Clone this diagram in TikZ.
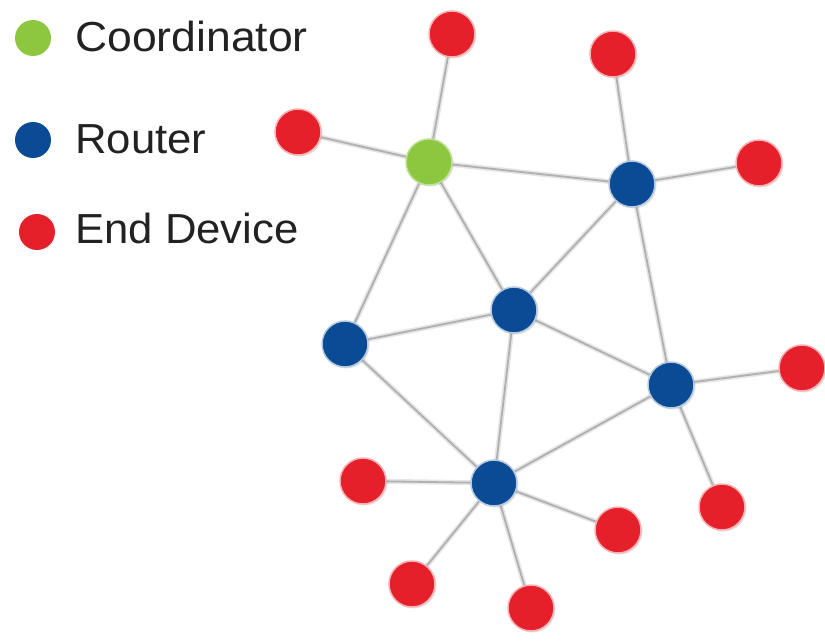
\documentclass[tikz,border=0pt]{standalone}
\usepackage{fontspec}
\setmainfont{Liberation Sans}
\usetikzlibrary{shadows,backgrounds}
\definecolor{cgreen}{HTML}{8DC63F}
\definecolor{cblue}{HTML}{0B4A94}
\definecolor{cred}{HTML}{E5202A}
\definecolor{ctext}{HTML}{222222}
\tikzset{
  dev/.style={circle, inner sep=0pt, minimum size=46pt,
    drop shadow={shadow xshift=1.5pt, shadow yshift=-1.5pt, opacity=0.22}},
  coord/.style={dev, fill=cgreen, draw=cgreen!55, line width=1.5pt},
  router/.style={dev, fill=cblue, draw=cblue!30, line width=1.5pt},
  enddev/.style={dev, fill=cred, draw=cred!35, line width=1.5pt},
  legdot/.style={circle, inner sep=0pt, minimum size=36pt},
  legtext/.style={anchor=base west, inner sep=0pt, text=ctext, font=\fontsize{42}{50}\selectfont},
  link/.style={draw=gray!62, line width=1.8pt, preaction={draw=gray!20, line width=5pt}}
}
\begin{document}
\begin{tikzpicture}[x=1pt,y=-1pt]
\useasboundingbox (0,0) rectangle (825,642);
% legend
\node[legdot, fill=cgreen] (lc) at (33,38) {};
\node[legdot, fill=cblue]  (lr) at (33,140) {};
\node[legdot, fill=cred]   (le) at (37,232) {};
\node[legtext] (tc) at (75,52)  {\scalebox{1.06}[1]{Coordinator}};
\node[legtext] (tr) at (75,153) {\scalebox{1.04}[1]{Router}};
\node[legtext] (te) at (75,243) {\scalebox{1.04}[1]{End Device}};
% network
\node[coord]  (C)  at (429,162) {};
\node[router] (R1) at (632,184) {};
\node[router] (R2) at (514,310) {};
\node[router] (R3) at (345,344) {};
\node[router] (R4) at (671,385) {};
\node[router] (R5) at (494,483) {};
\node[enddev] (E1)  at (452,34) {};
\node[enddev] (E2)  at (613,54) {};
\node[enddev] (E3)  at (298,132) {};
\node[enddev] (E4)  at (759,163) {};
\node[enddev] (E5)  at (802,368) {};
\node[enddev] (E6)  at (722,507) {};
\node[enddev] (E7)  at (363,481) {};
\node[enddev] (E8)  at (618,530) {};
\node[enddev] (E9)  at (412,584) {};
\node[enddev] (E10) at (531,608) {};
\begin{pgfonlayer}{background}
\foreach \a/\b in {C/E1, C/E3, C/R1, C/R2, C/R3, R1/E2, R1/E4, R1/R2, R1/R4,
  R2/R3, R2/R4, R2/R5, R3/R5, R4/E5, R4/E6, R4/R5, R5/E7, R5/E8, R5/E9, R5/E10}
  \draw[link] (\a.center) -- (\b.center);
\end{pgfonlayer}
\end{tikzpicture}
\end{document}
